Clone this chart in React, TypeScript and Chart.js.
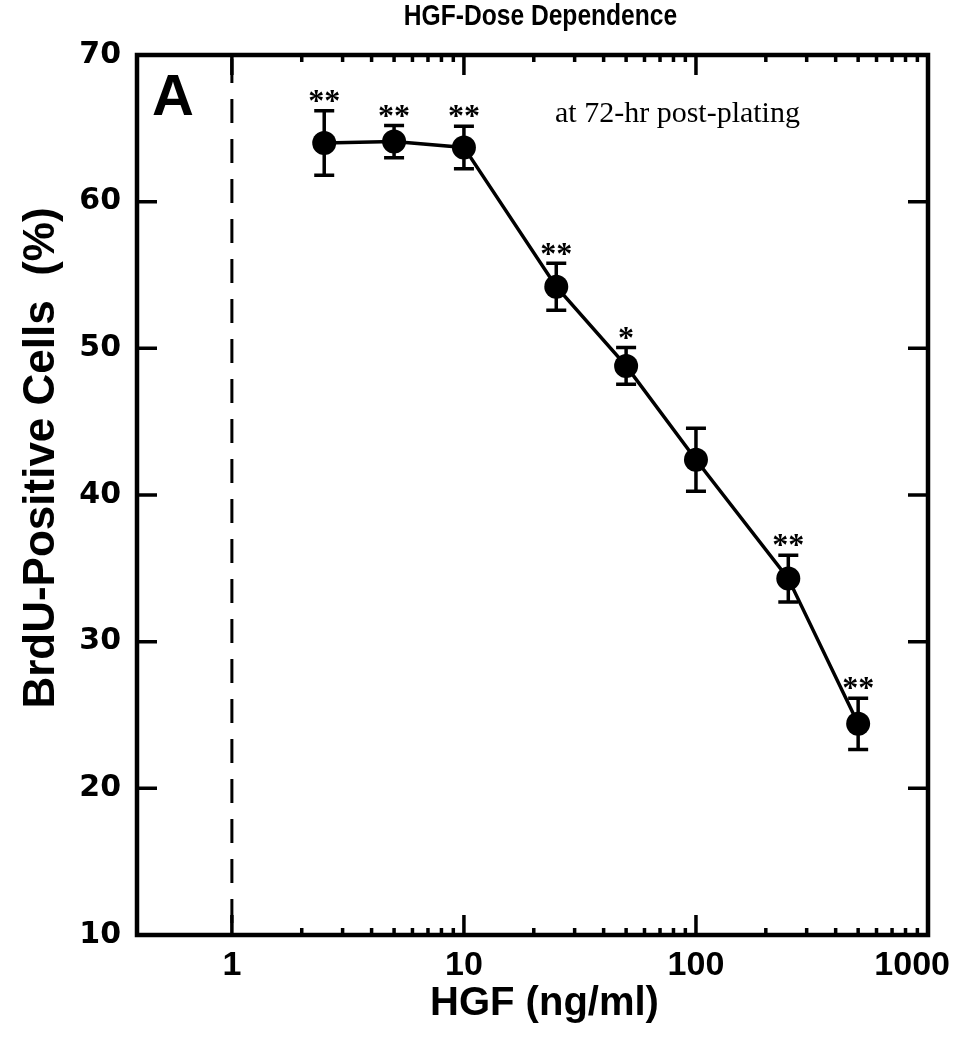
import React, { useEffect, useRef } from "react";
import { Chart, registerables } from "chart.js";

Chart.register(...registerables);

// ---- data ----
const doses = [2.5, 5, 10, 25, 50, 100, 250, 500];
const brduPct = [64.0, 64.1, 63.7, 54.2, 48.8, 42.4, 34.3, 24.4];
const semErr = [2.2, 1.1, 1.45, 1.6, 1.25, 2.15, 1.6, 1.75];
const significance = ["**", "**", "**", "**", "*", "", "**", "**"];
const xTickValues = [1, 10, 100, 1000];
const xTickLabels = ["1", "10", "100", "1000"];
const yTickValues = [10, 20, 30, 40, 50, 60, 70];
const refLineDose = 1;

const chartTitle = "HGF-Dose Dependence";
const panelLabel = "A";
const noteText = "at 72-hr post-plating";
const xTitle = "HGF (ng/ml)";
const yTitle = "BrdU-Positive Cells  (%)";

const W = 954;
const H = 1050;

const decorPlugin = {
  id: "decor",
  beforeDatasetsDraw(chart: any) {
    const { ctx, chartArea: ca, scales } = chart;
    const xs = scales.x;
    const ys = scales.y;
    ctx.save();
    // dashed reference line at x = 1
    const xr = xs.getPixelForValue(refLineDose);
    ctx.strokeStyle = "#000";
    ctx.lineWidth = 3;
    ctx.setLineDash([24, 16]);
    ctx.beginPath();
    ctx.moveTo(xr, ca.top + 4);
    ctx.lineTo(xr, ca.bottom);
    ctx.stroke();
    ctx.setLineDash([]);
    // error bars
    ctx.lineWidth = 3.5;
    doses.forEach((d, i) => {
      const px = xs.getPixelForValue(d);
      const yt = ys.getPixelForValue(brduPct[i] + semErr[i]);
      const yb = ys.getPixelForValue(brduPct[i] - semErr[i]);
      ctx.beginPath();
      ctx.moveTo(px, yt);
      ctx.lineTo(px, yb);
      ctx.moveTo(px - 10, yt);
      ctx.lineTo(px + 10, yt);
      ctx.moveTo(px - 10, yb);
      ctx.lineTo(px + 10, yb);
      ctx.stroke();
    });
    ctx.restore();
  },
  afterDraw(chart: any) {
    const { ctx, chartArea: ca, scales } = chart;
    const xs = scales.x;
    const ys = scales.y;
    ctx.save();
    ctx.fillStyle = "#000";
    ctx.strokeStyle = "#000";
    // frame
    ctx.lineWidth = 4.5;
    ctx.strokeRect(ca.left, ca.top, ca.right - ca.left, ca.bottom - ca.top);
    // x ticks (inward, bottom and top)
    ctx.lineWidth = 3.5;
    const drawX = (v: number, len: number) => {
      const px = xs.getPixelForValue(v);
      ctx.beginPath();
      ctx.moveTo(px, ca.bottom);
      ctx.lineTo(px, ca.bottom - len);
      ctx.moveTo(px, ca.top);
      ctx.lineTo(px, ca.top + len);
      ctx.stroke();
    };
    xTickValues.forEach((v) => drawX(v, 20));
    for (let dec = 1; dec < 1000; dec *= 10) {
      for (let k = 2; k <= 9; k++) {
        const v = k * dec;
        if (v < xs.max) drawX(v, 7);
      }
    }
    // y ticks (inward, left and right)
    yTickValues.forEach((v) => {
      const py = ys.getPixelForValue(v);
      ctx.beginPath();
      ctx.moveTo(ca.left, py);
      ctx.lineTo(ca.left + 20, py);
      ctx.moveTo(ca.right, py);
      ctx.lineTo(ca.right - 20, py);
      ctx.stroke();
    });
    // x tick labels
    ctx.font = 'bold 34px "Liberation Sans", Arial, sans-serif';
    ctx.textBaseline = "middle";
    ctx.textAlign = "center";
    xTickValues.forEach((v, i) => {
      let px = xs.getPixelForValue(v);
      const w = ctx.measureText(xTickLabels[i]).width;
      if (px + w / 2 > W - 4) px = W - 4 - w / 2;
      ctx.fillText(xTickLabels[i], px, ca.bottom + 31);
    });
    // asterisks
    ctx.font = 'bold 32px "Liberation Serif", "Times New Roman", serif';
    ctx.textAlign = "center";
    ctx.textBaseline = "middle";
    doses.forEach((d, i) => {
      if (!significance[i]) return;
      const px = xs.getPixelForValue(d);
      const yt = ys.getPixelForValue(brduPct[i] + semErr[i]);
      ctx.fillText(significance[i], px, yt - 8);
    });
    // panel label
    ctx.font = 'bold 58px "Liberation Sans", Arial, sans-serif';
    ctx.textAlign = "left";
    ctx.textBaseline = "alphabetic";
    ctx.fillText(panelLabel, ca.left + 15, ca.top + 60);
    // note
    ctx.font = '30px "Liberation Serif", "Times New Roman", serif';
    ctx.fillText(noteText, 555, 122);
    // title (slightly condensed)
    ctx.save();
    ctx.font = 'bold 30px "Liberation Sans", Arial, sans-serif';
    ctx.textAlign = "center";
    ctx.textBaseline = "middle";
    ctx.translate((ca.left + ca.right) / 2 + 8, 17);
    ctx.scale(0.82, 1);
    ctx.fillText(chartTitle, 0, 0);
    ctx.restore();
    // x title
    ctx.font = 'bold 40px "Liberation Sans", Arial, sans-serif';
    ctx.textAlign = "center";
    ctx.textBaseline = "middle";
    ctx.fillText(xTitle, (ca.left + ca.right) / 2 + 12, 1004);
    // y title
    ctx.translate(42, 458);
    ctx.rotate(-Math.PI / 2);
    ctx.font = 'bold 44px "Liberation Sans", Arial, sans-serif';
    ctx.fillText(yTitle, 0, 0);
    ctx.restore();
  },
};

export default function App() {
  const ref = useRef<HTMLCanvasElement | null>(null);
  useEffect(() => {
    document.body.style.margin = "0";
    const canvas = ref.current;
    if (!canvas) return;
    const chart = new Chart(canvas, {
      type: "line",
      data: {
        datasets: [
          {
            data: doses.map((d, i) => ({ x: d, y: brduPct[i] })),
            borderColor: "#000",
            backgroundColor: "#000",
            borderWidth: 3.5,
            pointRadius: 12,
            pointBackgroundColor: "#000",
            pointBorderWidth: 0,
            tension: 0,
            fill: false,
          },
        ],
      },
      options: {
        animation: false,
        responsive: false,
        devicePixelRatio: 1,
        layout: { padding: { top: 55, right: 26, left: 0, bottom: 0 } },
        plugins: {
          legend: { display: false },
          tooltip: { enabled: false },
          title: { display: false },
        },
        scales: {
          x: {
            type: "logarithmic",
            min: 0.39,
            max: 1000,
            grid: { display: false },
            border: { display: false },
            ticks: { display: false },
            afterFit: (s: any) => {
              s.height = H - 935;
            },
          },
          y: {
            type: "linear",
            min: 10,
            max: 70,
            grid: { display: false, drawTicks: false },
            border: { display: false },
            ticks: {
              stepSize: 10,
              color: "#000",
              padding: 16,
              font: { family: '"DejaVu Sans", sans-serif', weight: "bold", size: 30 },
            },
            afterFit: (s: any) => {
              s.width = 137;
            },
          },
        },
      },
      plugins: [decorPlugin],
    });
    return () => chart.destroy();
  }, []);
  return (
    <div style={{ position: "absolute", left: 0, top: 0, width: W, height: H, background: "#fff" }}>
      <canvas ref={ref} width={W} height={H} style={{ width: W, height: H }} />
    </div>
  );
}
